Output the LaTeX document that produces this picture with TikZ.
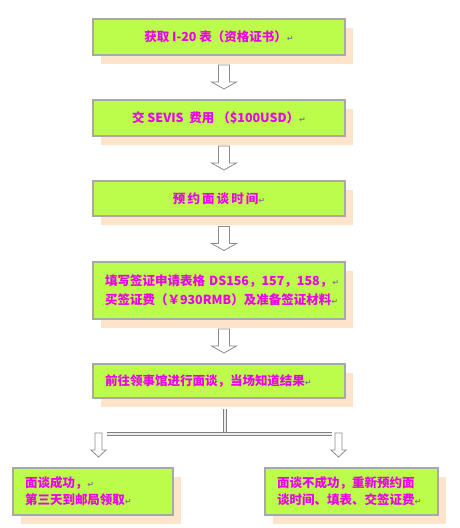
\documentclass[tikz,border=0pt]{standalone}
\usepackage{fontspec}
\usepackage{xcolor}
\usetikzlibrary{shadows}
\newfontfamily\cjk{Noto Sans CJK SC}
\newfontfamily\symfont{DejaVu Sans}
\definecolor{boxgreen}{RGB}{188,252,74}
\definecolor{boxgray}{RGB}{168,168,168}
\definecolor{peach}{RGB}{255,228,204}
\definecolor{pinktext}{RGB}{236,0,236}
\definecolor{arrowgray}{RGB}{140,140,140}
\newcommand{\ret}{{\symfont\fontsize{8}{8}\selectfont\color{gray}↵}}
\begin{document}
\begin{tikzpicture}
    [x=1pt,y=-1pt,
     stepbox/.style={draw=boxgray,line width=1.5pt,fill=boxgreen,
        drop shadow={shadow xshift=8pt,shadow yshift=-9pt,fill=peach,opacity=1},
        text=pinktext,font=\cjk\bfseries\fontsize{12.5}{19}\selectfont,
        inner xsep=12pt,inner ysep=0pt},
     arrowline/.style={draw=arrowgray,fill=white,line width=0.8pt,line join=miter},
     bigarrow/.pic={\path [arrowline] (-5.5,-12) -- (5.5,-12) -- (5.5,5) -- (12.5,5)
        -- (0,12) -- (-12.5,5) -- (-5.5,5) -- cycle;},
     smallarrow/.pic={\path [arrowline] (-3.5,-12) -- (3.5,-12) -- (3.5,5) -- (7.5,5)
        -- (0,12) -- (-7.5,5) -- (-3.5,5) -- cycle;},
     dbl/.style={draw=gray,line width=1pt,double=white!85!gray,double distance=1.6pt}]
\useasboundingbox (0,0) rectangle (460,528);
% main column
\node [stepbox,minimum width=252pt,minimum height=36pt] (idoc) at (219,37)
    {获取 I-20 表（资格证书）\ret};
\node [stepbox,minimum width=252pt,minimum height=36pt] (sevis) at (219,118)
    {交 SEVIS\ \ 费用\ （\$100USD）\ret};
\node [stepbox,minimum width=252pt,minimum height=35pt] (appoint) at (219,198.5)
    {预\,约\,面\,谈\,时\,间\ret};
\node [stepbox,text width=228pt,align=left,minimum height=57pt] (forms) at (219,290.5)
    {填写签证申请表格~DS156，157，158，\ret\\买签证费（￥930RMB）及准备签证材料\ret};
\node [stepbox,text width=228pt,align=left,minimum height=34pt] (consul) at (219,381)
    {前往领事馆进行面谈，当场知道结果\ret};
% results
\node [stepbox,text width=136pt,align=left,minimum height=47pt,
    font=\cjk\bfseries\fontsize{12.5}{17}\selectfont] (pass) at (93,491.5)
    {面谈成功，\ret\\第三天到邮局领取\ret};
\node [stepbox,text width=149pt,align=left,minimum height=47pt,
    font=\cjk\bfseries\fontsize{12.5}{17}\selectfont] (fail) at (351.5,491.5)
    {面谈不成功，重新预约面\\谈时间、填表、交签证费\ret};
% arrows between steps
\pic at (224,77) {bigarrow};
\pic at (224,158) {bigarrow};
\pic at (224,238.5) {bigarrow};
\pic at (224,341) {bigarrow};
% fork
\coordinate (forktop) at (225,409);
\coordinate (fork) at (225,434);
\coordinate (forkl) at (107,434);
\coordinate (forkr) at (332,434);
\draw [dbl] (forktop) -- (fork);
\draw [dbl] (forkl) -- (forkr);
\pic at (98.5,445) {smallarrow};
\pic at (338.5,445) {smallarrow};
\end{tikzpicture}
\end{document}
